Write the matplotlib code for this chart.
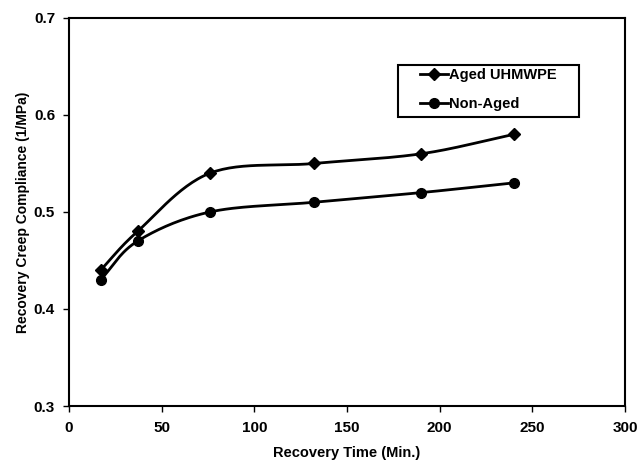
import numpy as np
import matplotlib.pyplot as plt
from matplotlib.patches import Rectangle

plt.rcParams['font.family'] = ['Liberation Sans', 'DejaVu Sans']
plt.rcParams['font.weight'] = 'bold'

# Data
time_min = [17, 37, 76, 132, 190, 240]
aged = [0.44, 0.48, 0.54, 0.55, 0.56, 0.58]
non_aged = [0.43, 0.47, 0.50, 0.51, 0.52, 0.53]


def smooth(x, y, n=30):
    # Catmull-Rom style smoothing like Excel's smoothed lines
    x = np.asarray(x, float)
    y = np.asarray(y, float)
    px = np.concatenate([[2 * x[0] - x[1]], x, [2 * x[-1] - x[-2]]])
    py = np.concatenate([[2 * y[0] - y[1]], y, [2 * y[-1] - y[-2]]])
    xs, ys = [], []
    t = np.linspace(0, 1, n)
    for i in range(1, len(px) - 2):
        for p, out in ((px, xs), (py, ys)):
            p0, p1, p2, p3 = p[i - 1], p[i], p[i + 1], p[i + 2]
            out.extend(0.5 * (2 * p1 + (-p0 + p2) * t
                              + (2 * p0 - 5 * p1 + 4 * p2 - p3) * t ** 2
                              + (-p0 + 3 * p1 - 3 * p2 + p3) * t ** 3))
    return np.array(xs), np.array(ys)


fig = plt.figure(figsize=(6.43, 4.61), dpi=100)
ax = fig.add_axes([0.1073, 0.1193, 0.8647, 0.8417])

for y, marker, ms, label in [(aged, 'D', 6.5, 'Aged UHMWPE'),
                             (non_aged, 'o', 7, 'Non-Aged')]:
    sx, sy = smooth(time_min, y)
    ax.plot(sx, sy, color='black', linewidth=2)
    ax.plot(time_min, y, linestyle='none', marker=marker, markersize=ms, color='black')
    ax.plot([], [], color='black', linewidth=2, marker=marker, markersize=ms, label=label)

ax.set_xlim(0, 300)
ax.set_ylim(0.3, 0.7)
ax.set_xticks(np.arange(0, 301, 50))
ax.set_yticks([0.3, 0.4, 0.5, 0.6, 0.7])
ax.set_yticklabels(['0.3', '0.4', '0.5', '0.6', '0.7'])
ax.tick_params(direction='out', length=4, width=1, labelsize=11, pad=6)
ax.tick_params(axis='x', pad=7)
for s in ax.spines.values():
    s.set_linewidth(1.5)

ax.set_xlabel('Recovery Time (Min.)', fontsize=10.5, fontweight='bold', labelpad=8)
ax.set_ylabel('Recovery Creep Compliance (1/MPa)', fontsize=10, fontweight='bold', labelpad=3)

# legend box like the Excel one
ax.add_patch(Rectangle((0.592, 0.745), 0.325, 0.134, transform=ax.transAxes,
                       facecolor='white', edgecolor='black', linewidth=1.5, zorder=4))
leg = ax.legend(loc='upper left', bbox_to_anchor=(0.631, 0.871), fontsize=10.5,
                frameon=False, handlelength=1.9, handletextpad=0.1,
                labelspacing=1.05, borderpad=0, borderaxespad=0)
leg.set_zorder(5)

fig.savefig('out.png', dpi=100, facecolor='white')
